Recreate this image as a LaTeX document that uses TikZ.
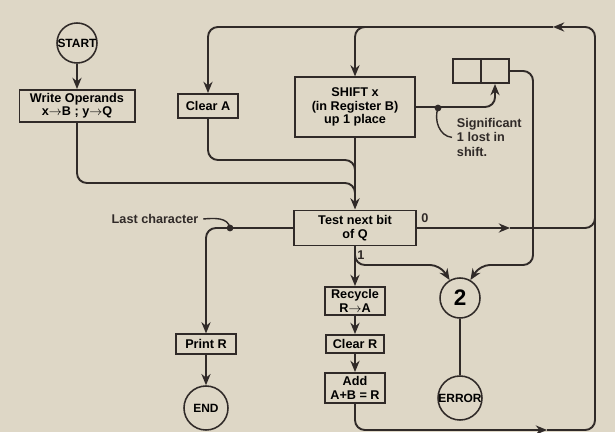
\documentclass[tikz,border=0pt]{standalone}
\usepackage{fontspec}
\setmainfont{Liberation Sans}
\usetikzlibrary{arrows.meta}
\definecolor{paper}{RGB}{222,215,198}
\definecolor{ink}{RGB}{48,42,40}

\tikzset{
  opbox/.style={draw=ink, line width=1.4pt, fill=paper, inner sep=1.5pt, align=center,
    font=\bfseries\fontsize{9}{9.5}\selectfont},
  term/.style={draw=ink, line width=1.1pt, circle, fill=paper, inner sep=0pt,
    font=\bfseries\fontsize{8.5}{9}\selectfont},
  flow/.style={draw=ink, line width=1.35pt, rounded corners=7pt},
  note/.style={text=ink, font=\bfseries\fontsize{9}{10.5}\selectfont},
}

\begin{document}
\begin{tikzpicture}[x=0.025cm, y=-0.025cm, >={Stealth[length=8pt,width=6.5pt]}]
    \fill[paper] (0,0) rectangle (615,432);
    \useasboundingbox (0,0) rectangle (615,432);
    % Start and operands
    \node[term, minimum size=1cm] (start) at (77,43) {START};
    \node[opbox, minimum width=2.875cm, minimum height=0.8cm] (write) at (77,106)
      {Write Operands\\x$\rightarrow$B ; y$\rightarrow$Q};
    % Loop body
    \node[opbox, minimum width=1.5cm, minimum height=0.6cm] (cleara) at (208,106) {Clear A};
    \node[opbox, minimum width=3.0cm, minimum height=1.48cm] (shift) at (355,107)
      {SHIFT x\\(in Register B)\\up 1 place};
    \node[opbox, minimum width=0.72cm, minimum height=0.6cm] (reg1) at (467,71) {};
    \node[opbox, minimum width=0.68cm, minimum height=0.6cm] (reg2) at (495,71) {};
    \node[opbox, minimum width=3.05cm, minimum height=0.875cm] (test) at (355,228)
      {Test next bit\\of Q};
    \node[opbox, minimum width=1.52cm, minimum height=0.7cm] (recycle) at (355,301)
      {Recycle\\R$\rightarrow$A};
    \node[opbox, minimum width=1.45cm, minimum height=0.45cm] (clearr) at (355,344) {Clear R};
    \node[opbox, minimum width=1.52cm, minimum height=0.75cm] (add) at (355,388)
      {Add\\A+B = R};
    % Exits
    \node[opbox, minimum width=1.48cm, minimum height=0.48cm] (print) at (206,344) {Print R};
    \node[term, minimum size=1.1cm] (endn) at (206,408) {END};
    \node[term, minimum size=1cm, font=\bfseries\fontsize{16}{16}\selectfont] (two) at (460,298) {2};
    \node[term, minimum size=1.1cm] (error) at (460,398) {ERROR};
    % Labels
    \node[note] (zero) at (425,218) {0};
    \node[note] (one) at (361,255) {1};
    \node[note, anchor=north west, align=left] (sig) at (452,113) {Significant\\1 lost in\\shift.};
    \node[note] (last) at (155,219) {Last character};

    \draw[flow,->] (start) -- (write);
    \draw[flow] (write.south) |- (355,183) -- (355,205);
    \draw[flow] (cleara.south) |- (355,160) -- (355,200);
    \draw[flow,->] (shift.south) -- (test.north);
    % Return loop
    \coordinate (botarr) at (547,430);
    \coordinate (toparr) at (553,27);
    \draw[flow,->] (add.south) |- (botarr);
    \draw[flow,->] (botarr) -| (595,27) -- (toparr);
    \draw[flow,->] (toparr) -| (cleara.north);
    \draw[flow,->] (400,27) -| (shift.north);
    % Bit 0
    \coordinate (zeroarr) at (510,228);
    \draw[flow,->] (test.east) -- (zeroarr);
    \draw[flow] (zeroarr) -- (595,228) -- (595,200);
    % Bit 1
    \draw[flow,->] (test.south) -- (recycle.north);
    \draw[flow,->] (recycle) -- (clearr);
    \draw[flow,->] (clearr) -- (add);
    \draw[flow,->] (test.south) |- (440,265) -- (two.120);
    % Shifted-out bit
    \coordinate (sigdot) at (438,108);
    \draw[flow,->] (shift.east) -| (reg2.south);
    \fill[ink] (sigdot) circle (2.4pt);
    \draw[ink, line width=1pt] (sigdot) to[out=-110, in=175] (sig.west);
    \draw[flow,->] (reg2.east) -| (533,265) -- (480,265) -- (two.60);
    \draw[flow] (two) -- (error);
    % Last character
    \coordinate (lastdot) at (230,228);
    \draw[flow,->] (test.west) -| (print.north);
    \fill[ink] (lastdot) circle (2.4pt);
    \draw[ink, line width=1pt] (last.east) to[out=5, in=100] (lastdot);
    \draw[flow,->] (print) -- (endn);
\end{tikzpicture}
\end{document}
